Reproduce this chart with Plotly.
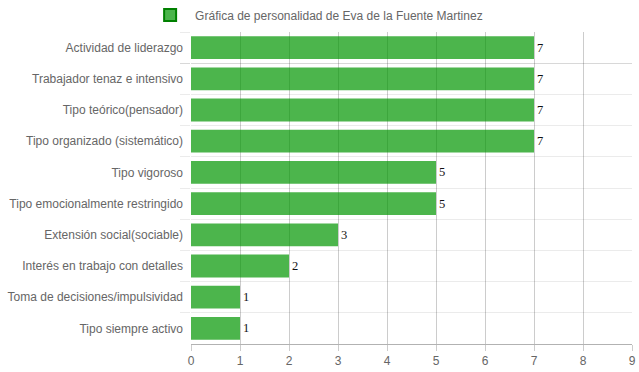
import plotly.graph_objects as go

categories = [
    "Actividad de liderazgo",
    "Trabajador tenaz e intensivo",
    "Tipo teórico(pensador)",
    "Tipo organizado (sistemático)",
    "Tipo vigoroso",
    "Tipo emocionalmente restringido",
    "Extensión social(sociable)",
    "Interés en trabajo con detalles",
    "Toma de decisiones/impulsividad",
    "Tipo siempre activo",
]
values = [7, 7, 7, 7, 5, 5, 3, 2, 1, 1]
series_name = "Gráfica de personalidad de Eva de la Fuente Martinez"
x_ticks = [0, 1, 2, 3, 4, 5, 6, 7, 8, 9]

fill = "rgba(0,150,0,0.7)"
border = "rgb(0,128,0)"

fig = go.Figure()
fig.add_trace(go.Bar(
    x=values, y=categories, orientation="h",
    marker=dict(color=fill, line=dict(width=0)),
    text=values, texttemplate="%{x}", textposition="outside",
    textfont=dict(family="Liberation Serif", size=12.5, color="#111"),
    cliponaxis=False, showlegend=False, name=series_name,
    hoverinfo="x+y",
))
fig.add_trace(go.Bar(
    x=[None], y=[None], orientation="h", name=series_name,
    marker=dict(color=fill, line=dict(color=border, width=2)),
    showlegend=True,
))

fig.update_layout(
    width=639, height=372,
    margin=dict(l=191, r=7, t=32, b=28, autoexpand=False),
    paper_bgcolor="white", plot_bgcolor="white",
    font=dict(family="Liberation Sans, Arial, sans-serif", size=12, color="#666"),
    bargap=0.27,
    showlegend=True,
    legend=dict(
        orientation="h", xref="container", yref="container",
        x=0.4955, xanchor="center", y=1 - 15 / 372, yanchor="middle",
        font=dict(size=12, color="#666"), itemwidth=40,
    ),
    xaxis=dict(
        range=[0, 9], tickvals=x_ticks, ticktext=[str(t) for t in x_ticks],
        showgrid=True, gridcolor="rgba(0,0,0,0.2)", gridwidth=1,
        zeroline=False, showline=True, linecolor="rgba(0,0,0,0.3)",
        ticks="outside", ticklen=6, tickcolor="rgba(0,0,0,0.2)",
        tickfont=dict(size=12, color="#666"), automargin=False,
    ),
    yaxis=dict(
        type="category", categoryorder="array", categoryarray=categories,
        autorange="reversed", tickson="boundaries",
        showgrid=True, gridcolor="rgba(0,0,0,0.08)", gridwidth=1,
        ticks="outside", ticklen=10, tickcolor="rgba(0,0,0,0.08)",
        showline=False, zeroline=False, ticklabelstandoff=7,
        tickfont=dict(size=12, color="#666"), automargin=False,
    ),
)

fig.write_html(
    "out.html",
    config={"displayModeBar": False},
    post_script="document.body.style.margin='0px';document.body.style.overflow='hidden';",
)
